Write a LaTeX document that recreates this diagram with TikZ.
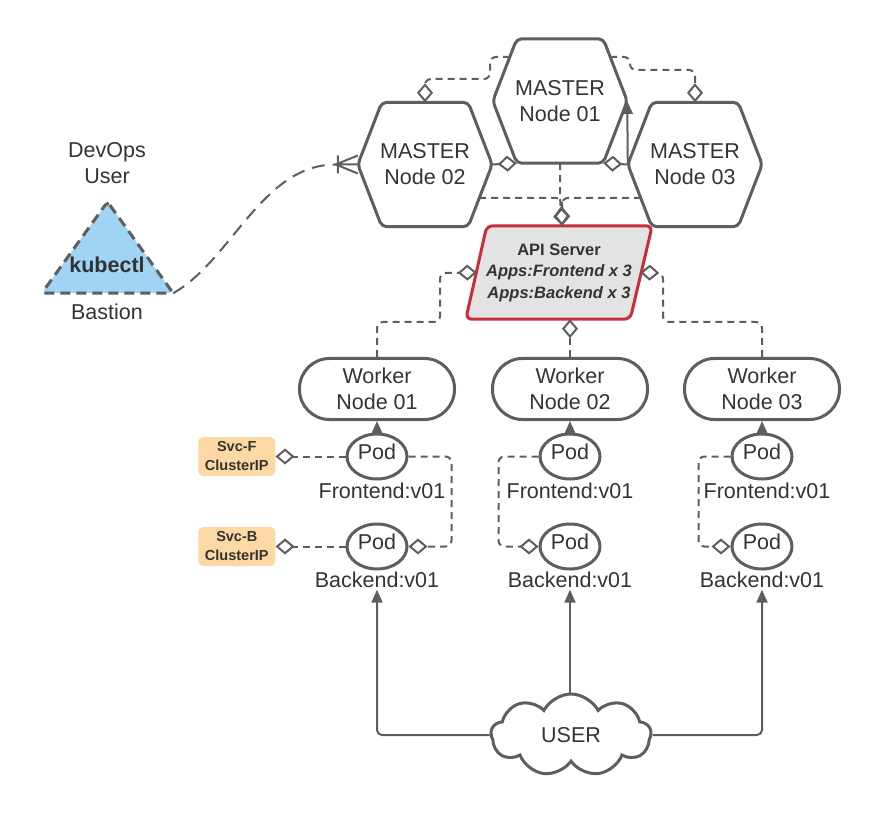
\documentclass[tikz,border=0pt]{standalone}
\usepackage{fontspec}
\setmainfont{Liberation Sans}
\usetikzlibrary{shapes.geometric, shapes.symbols, arrows.meta, positioning, backgrounds}
\usepackage{xcolor}
\definecolor{linegray}{HTML}{5E5E5E}
\definecolor{txtgray}{HTML}{333333}
\definecolor{apired}{HTML}{C92D39}
\definecolor{apifill}{HTML}{E3E3E3}
\definecolor{bastionblue}{HTML}{9FD4F4}
\definecolor{svcorange}{HTML}{FCD8A4}

\begin{document}
\begin{tikzpicture}[x=1pt, y=1pt,
    every node/.style={text=txtgray, font=\fontsize{21.5}{26}\selectfont},
    hexbox/.style={minimum width=134pt, minimum height=124pt, align=center},
    hexline/.style={draw=linegray, line width=3pt, rounded corners=5pt, line join=round},
    worker/.style={draw=linegray, line width=3pt, rounded corners=30pt, minimum width=155pt, minimum height=61pt, align=center},
    pod/.style={ellipse, draw=linegray, line width=3pt, minimum width=60pt, minimum height=45pt, inner sep=0pt, text depth=10pt},
    lbl/.style={inner sep=2pt},
    svc/.style={fill=svcorange, rounded corners=5pt, minimum width=77pt, minimum height=39pt, inner sep=1pt, align=center, font=\fontsize{14.5}{19}\selectfont\bfseries},
    conn/.style={draw=linegray, line width=2pt},
    dashconn/.style={conn, dash pattern=on 7pt off 5pt, rounded corners=6pt, -{Diamond[open, length=19pt, width=16pt]}},
    arrowconn/.style={conn, rounded corners=5pt, -{Triangle[length=13pt, width=11pt]}}
]
\useasboundingbox (0,0) rectangle (880,823);

% masters
\node[hexbox] (master1) at (560,722) {MASTER\\Node 01};
\node[hexbox] (master2) at (425,658.5) {MASTER\\Node 02};
\node[hexbox] (master3) at (695,658.5) {MASTER\\Node 03};
\foreach \m in {master1, master2, master3}
  \draw[hexline] (\m.west) -- ([xshift=24pt]\m.north west) -- ([xshift=-24pt]\m.north east)
    -- (\m.east) -- ([xshift=-24pt]\m.south east) -- ([xshift=24pt]\m.south west) -- cycle;

% api server
\node[minimum width=186pt, minimum height=93pt, align=center, font=\fontsize{16.5}{21.5}\selectfont\bfseries] (api) at (559,550.5)
  {API Server\\\textit{Apps:Frontend x 3}\\\textit{Apps:Backend x 3}};

% workers and pods
\node[worker] (worker1) at (377,434) {Worker\\Node 01};
\node[worker] (worker2) at (570,434) {Worker\\Node 02};
\node[worker] (worker3) at (762,434) {Worker\\Node 03};
\foreach \i in {1,2,3} {
  \node[pod, below=11.5pt of worker\i] (podf\i) {Pod};
  \node[pod, below=42pt of podf\i] (podb\i) {Pod};
  \node[lbl, below=-1pt of podb\i] (be\i) {Backend:v01};
}
\node[lbl, below=0pt of podf1, xshift=5pt] (fe1) {Frontend:v01};
\node[lbl, below=0pt of podf2] (fe2) {Frontend:v01};
\node[lbl, below=0pt of podf3, xshift=5pt] (fe3) {Frontend:v01};
\node[svc, left=70pt of podf1] (svcf) {Svc-F\\ClusterIP};
\node[svc, left=70pt of podb1] (svcb) {Svc-B\\ClusterIP};

% user
\node[cloud, draw=linegray, line width=3pt, cloud puffs=9, cloud puff arc=125, aspect=1.9,
  minimum width=160pt, minimum height=82pt, inner sep=0pt] (user) at (571,88) {USER};

% bastion
\node[minimum width=131pt, minimum height=91pt] (bastion) at (107.5,575.5) {};
\node[font=\fontsize{21.5}{26}\selectfont\bfseries] (kubectl) at (107,558) {kubectl};
\node[align=center] (devops) at (107,660) {DevOps\\User};
\node (bastionlbl) at (107,511.5) {Bastion};

\begin{scope}[on background layer]
\draw[draw=apired, fill=apifill, line width=3pt, rounded corners=6pt]
  ([xshift=21pt]api.north west) -- (api.north east) -- ([xshift=-22pt]api.south east) -- (api.south west) -- cycle;
\draw[draw=linegray, fill=bastionblue, line width=3pt, dash pattern=on 10pt off 6pt, rounded corners=4pt]
  (bastion.north) -- (bastion.south east) -- (bastion.south west) -- cycle;
\end{scope}

\coordinate (m1left) at (510,766);
\coordinate (m1right) at (610,766);
\coordinate (m2out) at (479,625);
\coordinate (m3out) at (641,625);
\coordinate (foot) at ([xshift=-22pt]master2.west);

% master links
\draw[dashconn] (m1left) -- (490,766) -- (490,744) -- (425,744) -- (master2.north);
\draw[dashconn] (m1right) -- (630,766) -- (630,753) -- (695,753) -- (master3.north);
\draw[dashconn] (master2.east) -- ([xshift=24pt]master1.south west);
\draw[dashconn] (master3.west) -- ([xshift=-24pt]master1.south east);
\draw[arrowconn] (master3.west) -- (master1.east);
\draw[dashconn] (master1.south) -- ++(0,-35pt) -- ([xshift=3pt]api.north);
\draw[dashconn] (m2out) -| ([xshift=3pt]api.north);
\draw[dashconn] (m3out) -| ([xshift=3pt]api.north);

% kubectl access
\draw[conn, dash pattern=on 13pt off 8pt] (bastion.south east) .. controls (232,563) and (262,658.5) .. (foot);
\draw[conn] ([yshift=9pt]master2.west) -- (foot) -- ([yshift=-9pt]master2.west)
  (foot) -- (master2.west) ([xshift=2pt,yshift=9pt]foot) -- ([xshift=2pt,yshift=-9pt]foot);

% workers to api
\draw[dashconn] (worker1.north) |- (440,501) -- (440,550) -- ([xshift=11pt]api.west);
\draw[dashconn] (worker2.north) -- ([xshift=11pt]api.south);
\draw[dashconn] (worker3.north) |- (663,501) -- (663,550) -- ([xshift=-12pt]api.east);

% pods
\foreach \i in {1,2,3}
  \draw[arrowconn] (podf\i.north) -- (worker\i.south);
\draw[dashconn] (podf1.west) -- (svcf.east);
\draw[dashconn] (podb1.west) -- (svcb.east);
\draw[dashconn] (podf1.east) -- ++(43pt,0) |- (podb1.east);
\draw[dashconn] (podf2.west) -- ++(-40pt,0) |- (podb2.west);
\draw[dashconn] (podf3.west) -- ++(-32pt,0) |- (podb3.west);

% user traffic
\draw[arrowconn] (user.north -| be2.south) -- (be2.south);
\draw[arrowconn] (user.west) -| (be1.south);
\draw[arrowconn] (user.east) -| (be3.south);
\end{tikzpicture}
\end{document}
